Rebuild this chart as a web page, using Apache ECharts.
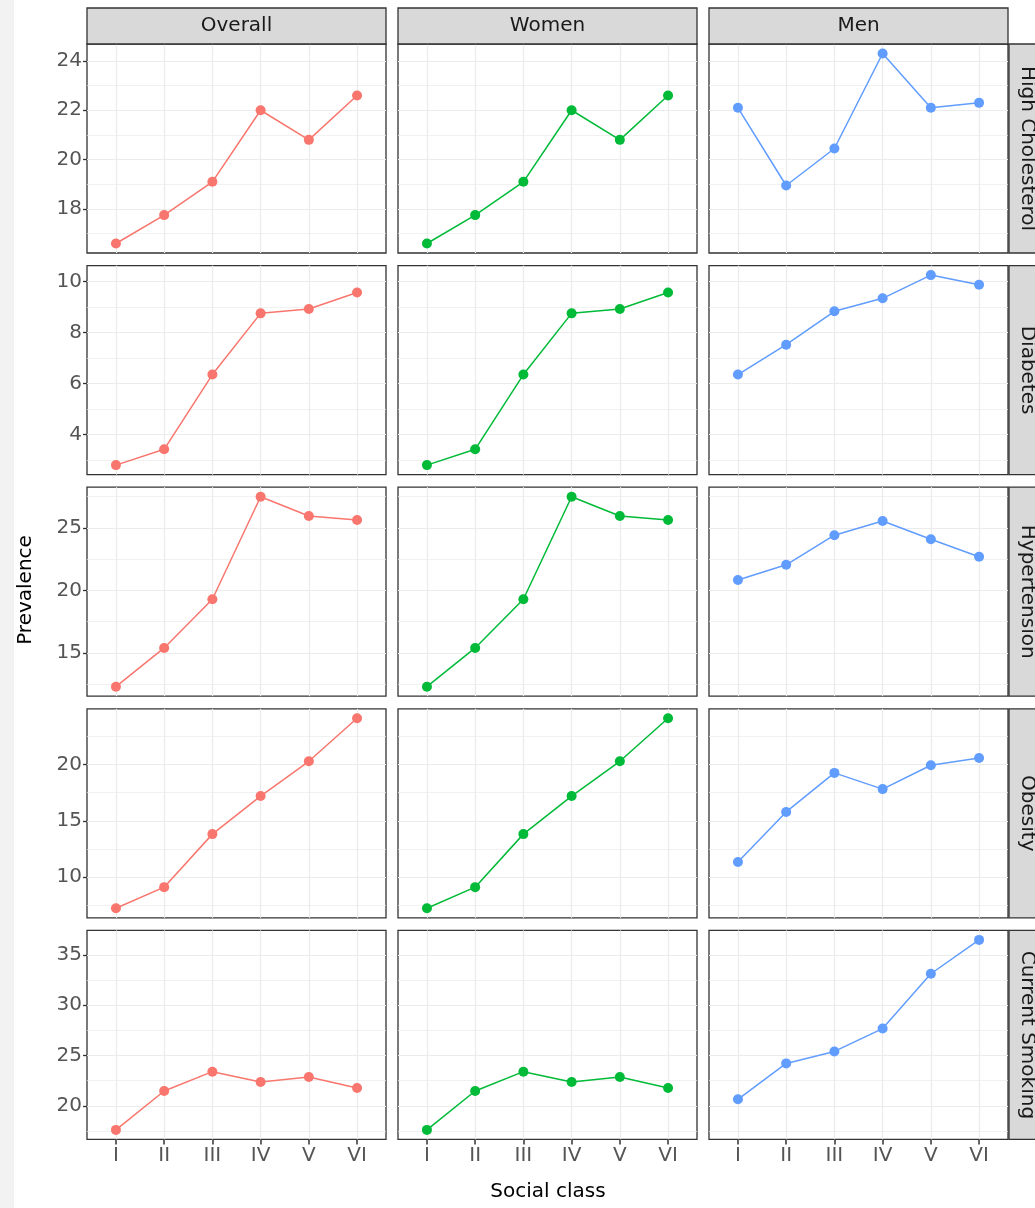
<!DOCTYPE html>
<html>
<head>
<meta charset="utf-8">
<script src="https://cdn.jsdelivr.net/npm/echarts@6/dist/echarts.min.js"></script>
<style>
html,body{margin:0;padding:0;background:#fff;}
#c{width:1035px;height:1208px;}
</style>
</head>
<body>
<div id="c"></div>
<script>
// ---------------- DATA ----------------
const classes = ['I', 'II', 'III', 'IV', 'V', 'VI'];
const classPositions = [1, 2, 3, 4, 5, 6];
const columns = ['Overall', 'Women', 'Men'];
const outcomes = ['High Cholesterol', 'Diabetes', 'Hypertension', 'Obesity', 'Current Smoking'];

const cholesterolOverall = [16.6, 17.75, 19.1, 22.0, 20.8, 22.6];
const cholesterolWomen   = [16.6, 17.75, 19.1, 22.0, 20.8, 22.6];
const cholesterolMen     = [22.1, 18.95, 20.45, 24.3, 22.1, 22.3];

const diabetesOverall = [2.8, 3.42, 6.35, 8.75, 8.92, 9.57];
const diabetesWomen   = [2.8, 3.42, 6.35, 8.75, 8.92, 9.57];
const diabetesMen     = [6.35, 7.52, 8.83, 9.34, 10.25, 9.87];

const hypertensionOverall = [12.3, 15.4, 19.3, 27.5, 25.96, 25.64];
const hypertensionWomen   = [12.3, 15.4, 19.3, 27.5, 25.96, 25.64];
const hypertensionMen     = [20.83, 22.05, 24.42, 25.56, 24.1, 22.69];

const obesityOverall = [7.23, 9.11, 13.82, 17.2, 20.29, 24.11];
const obesityWomen   = [7.23, 9.11, 13.82, 17.2, 20.29, 24.11];
const obesityMen     = [11.35, 15.79, 19.26, 17.82, 19.94, 20.58];

const smokingOverall = [17.62, 21.48, 23.4, 22.37, 22.87, 21.78];
const smokingWomen   = [17.62, 21.48, 23.4, 22.37, 22.87, 21.78];
const smokingMen     = [20.66, 24.22, 25.41, 27.68, 33.12, 36.48];

const cholesterolTicks  = [18, 20, 22, 24];
const diabetesTicks     = [4, 6, 8, 10];
const hypertensionTicks = [15, 20, 25];
const obesityTicks      = [10, 15, 20];
const smokingTicks      = [20, 25, 30, 35];

const groupColors = ['#F8766D', '#00BA38', '#619CFF'];

const rowsData = [
  [cholesterolOverall, cholesterolWomen, cholesterolMen],
  [diabetesOverall, diabetesWomen, diabetesMen],
  [hypertensionOverall, hypertensionWomen, hypertensionMen],
  [obesityOverall, obesityWomen, obesityMen],
  [smokingOverall, smokingWomen, smokingMen]
];
const rowsTicks = [cholesterolTicks, diabetesTicks, hypertensionTicks, obesityTicks, smokingTicks];

// ---------------- LAYOUT ----------------
const FONT = 'DejaVu Sans';
const colLeft = [87, 398, 709];
const panelW = 299;
const rowTop0 = 44;
const rowStep = 221.6;
const panelH = 209;
const stripH = 36;
const stripTop = 8;
const rightStripX = 1009;
const border = '#333333';
const gridColor = '#EBEBEB';

function minorOf(ticks, lo, hi) {
  const step = ticks[1] - ticks[0];
  const out = [];
  for (let v = ticks[0] - step / 2; v <= hi; v += step) {
    if (v >= lo) out.push(v);
  }
  return out;
}

const grids = [], xAxes = [], yAxes = [], series = [], graphics = [];

graphics.push({type: 'rect', shape: {x: 0, y: 0, width: 14, height: 1208}, style: {fill: '#F2F2F2'}, z: -10, silent: true});

for (let r = 0; r < 5; r++) {
  const top = rowTop0 + r * rowStep;
  const all = [].concat(...rowsData[r]);
  const dmin = Math.min(...all), dmax = Math.max(...all);
  const pad = (dmax - dmin) * 0.05;
  const ymin = dmin - pad, ymax = dmax + pad;
  const major = rowsTicks[r];
  const minor = minorOf(major, ymin, ymax);
  for (let c = 0; c < 3; c++) {
    const gi = grids.length;
    grids.push({
      left: colLeft[c], top: top, width: panelW, height: panelH,
      show: true, backgroundColor: '#ffffff', borderColor: border, borderWidth: 1.3,
      containLabel: false
    });
    xAxes.push({
      gridIndex: gi, type: 'value', min: 0.4, max: 6.6,
      axisLine: {show: false},
      axisTick: {show: r === 4, length: 5, customValues: classPositions, lineStyle: {color: border, width: 1.5}},
      axisLabel: {show: r === 4, customValues: classPositions, margin: 6,
        formatter: v => classes[Math.round(v) - 1] || '',
        color: '#555555', fontSize: 20, fontFamily: FONT},
      splitLine: {show: true, lineStyle: {color: gridColor, width: 1.2}}
    });
    const yMain = yAxes.length;
    yAxes.push({
      gridIndex: gi, type: 'value', min: ymin, max: ymax, position: 'left',
      axisLine: {show: false},
      axisTick: {show: c === 0, length: 4, customValues: major, lineStyle: {color: border, width: 1.3}},
      axisLabel: {show: c === 0, customValues: major, margin: 5,
        color: '#555555', fontSize: 20, fontFamily: FONT},
      splitLine: {show: true, lineStyle: {color: gridColor, width: 1.2}}
    });
    yAxes.push({
      gridIndex: gi, type: 'value', min: ymin, max: ymax, position: 'right',
      axisLine: {show: false},
      axisTick: {show: false, customValues: minor},
      axisLabel: {show: false, customValues: minor},
      splitLine: {show: true, lineStyle: {color: gridColor, width: 0.7}}
    });
    series.push({
      type: 'line', xAxisIndex: gi, yAxisIndex: yMain,
      data: rowsData[r][c].map((v, i) => [classPositions[i], v]),
      symbol: 'circle', symbolSize: 10, showSymbol: true,
      lineStyle: {color: groupColors[c], width: 1.5},
      itemStyle: {color: groupColors[c]},
      animation: false, silent: true, z: 5
    });
  }
  // right strip
  graphics.push({type: 'rect', shape: {x: rightStripX, y: top, width: 36, height: panelH},
    style: {fill: '#D9D9D9', stroke: border, lineWidth: 1.3}, z: 10});
  graphics.push({type: 'text', x: rightStripX + 18, y: top + panelH / 2, rotation: -Math.PI / 2,
    style: {text: outcomes[r], fill: '#1A1A1A', font: '20px "' + FONT + '"', align: 'center', verticalAlign: 'middle'}, z: 11});
}

for (let c = 0; c < 3; c++) {
  graphics.push({type: 'rect', shape: {x: colLeft[c], y: stripTop, width: panelW, height: stripH},
    style: {fill: '#D9D9D9', stroke: border, lineWidth: 1.3}, z: 10});
  graphics.push({type: 'text', x: colLeft[c] + panelW / 2, y: stripTop + stripH / 2,
    style: {text: columns[c], fill: '#1A1A1A', font: '20px "' + FONT + '"', align: 'center', verticalAlign: 'middle'}, z: 11});
}

graphics.push({type: 'text', x: 26, y: 590, rotation: Math.PI / 2,
  style: {text: 'Prevalence', fill: '#000', font: '20px "' + FONT + '"', align: 'center', verticalAlign: 'middle'}, z: 11});
graphics.push({type: 'text', x: 548, y: 1192,
  style: {text: 'Social class', fill: '#000', font: '20px "' + FONT + '"', align: 'center', verticalAlign: 'middle'}, z: 11});

const chart = echarts.init(document.getElementById('c'), null, {renderer: 'canvas'});
chart.setOption({
  animation: false,
  backgroundColor: '#ffffff',
  grid: grids,
  xAxis: xAxes,
  yAxis: yAxes,
  series: series,
  graphic: graphics
});
</script>
</body>
</html>
